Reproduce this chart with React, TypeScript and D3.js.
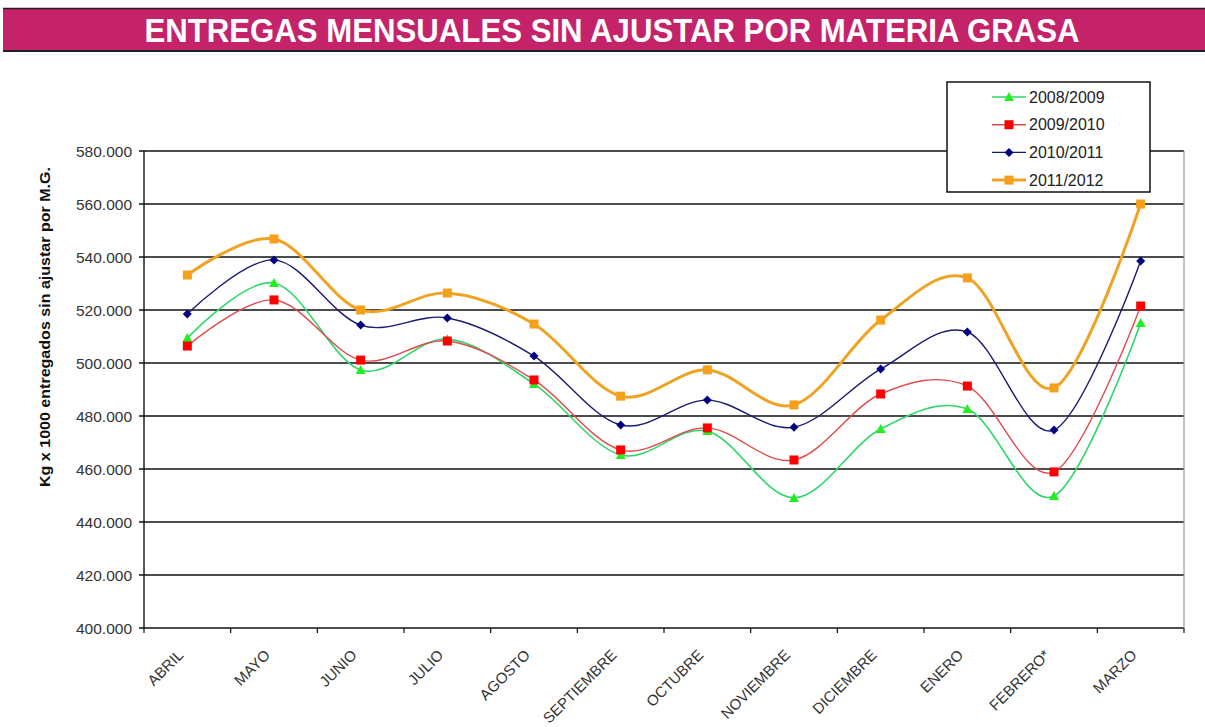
import React from 'react';
import * as d3 from 'd3';

const months = ['ABRIL', 'MAYO', 'JUNIO', 'JULIO', 'AGOSTO', 'SEPTIEMBRE', 'OCTUBRE', 'NOVIEMBRE', 'DICIEMBRE', 'ENERO', 'FEBRERO*', 'MARZO'];

const s0809 = [509.4, 530.2, 497.4, 509.0, 492.1, 465.3, 474.3, 449.1, 475.1, 482.6, 449.8, 515.1];
const s0910 = [506.4, 523.8, 501.1, 508.3, 493.6, 467.2, 475.5, 463.4, 488.3, 491.3, 458.9, 521.5];
const s1011 = [518.5, 538.9, 514.3, 517.0, 502.6, 476.6, 486.0, 475.8, 497.7, 511.7, 474.7, 538.5];
const s1112 = [533.2, 546.8, 520.0, 526.4, 514.7, 487.5, 497.4, 484.2, 516.2, 532.1, 490.6, 560.0];

const seriesNames = ['2008/2009', '2009/2010', '2010/2011', '2011/2012'];
const yTicks = [400, 420, 440, 460, 480, 500, 520, 540, 560, 580];

const W = 1205;
const H = 727;
const plot = { left: 144, right: 1184, top: 151, bottom: 628 };

const styles = [
  { line: '#2fd66a', fill: '#22ee22', width: 1.6, marker: 'triangle' },
  { line: '#e04a4a', fill: '#ff0000', width: 1.4, marker: 'square' },
  { line: '#1a1a70', fill: '#000080', width: 1.4, marker: 'diamond' },
  { line: '#f0a323', fill: '#f5a01a', width: 3, marker: 'square' },
];

const Marker = ({ type, x, y, color }: { type: string; x: number; y: number; color: string }) => {
  if (type === 'square') {
    const s = 9;
    return <rect x={x - s / 2} y={y - s / 2} width={s} height={s} fill={color} />;
  }
  if (type === 'diamond') {
    const r = 4.5;
    return <path d={`M${x},${y - r}L${x + r},${y}L${x},${y + r}L${x - r},${y}Z`} fill={color} />;
  }
  const r = 5;
  return <path d={`M${x},${y - r}L${x + r},${y + r * 0.8}L${x - r},${y + r * 0.8}Z`} fill={color} />;
};

export default function App() {
  const data = [s0809, s0910, s1011, s1112];

  const x = d3.scaleBand<string>().domain(months).range([plot.left, plot.right]);
  const y = d3.scaleLinear().domain([400, 580]).range([plot.bottom, plot.top]);
  const cx = (m: string) => (x(m) as number) + x.bandwidth() / 2;

  // Excel-style smoothed line
  const line = d3
    .line<number>()
    .x((_, i) => cx(months[i]))
    .y((v) => y(v))
    .curve(d3.curveCardinal.tension(0));

  const fmt = (v: number) => `${v}.000`;
  const boundaries = months.map((m) => x(m) as number).concat([plot.right]);

  const legendX = 947;
  const legendY = 82;

  return (
    <div style={{ position: 'absolute', left: 0, top: 0, width: W, height: H, background: '#fff' }}>
      <svg width={W} height={H} style={{ display: 'block', fontFamily: 'Liberation Sans, Arial, sans-serif' }}>
        {/* title bar */}
        <rect x={3} y={8} width={W - 3} height={43} fill="#c4236a" />
        <line x1={3} x2={W} y1={8.5} y2={8.5} stroke="#222" strokeWidth={1.5} />
        <line x1={3} x2={W} y1={51} y2={51} stroke="#222" strokeWidth={2} />
        <text
          x={612}
          y={42}
          textAnchor="middle"
          fill="#fff"
          fontSize={34}
          fontWeight="bold"
          textLength={935}
          lengthAdjust="spacingAndGlyphs"
        >
          ENTREGAS MENSUALES SIN AJUSTAR POR MATERIA GRASA
        </text>

        {/* grid */}
        {yTicks.map((t) => (
          <g key={t}>
            <line x1={plot.left - 5} x2={plot.right} y1={y(t)} y2={y(t)} stroke="#111" strokeWidth={1.4} />
            <text x={132} y={y(t) + 5.5} textAnchor="end" fontSize={15.5} fill="#333">
              {fmt(t)}
            </text>
          </g>
        ))}
        <line x1={plot.left} x2={plot.left} y1={plot.top} y2={plot.bottom} stroke="#111" strokeWidth={1.4} />
        <line x1={plot.right} x2={plot.right} y1={plot.top} y2={plot.bottom} stroke="#999" strokeWidth={1.2} />
        {boundaries.map((b, i) => (
          <line key={i} x1={b} x2={b} y1={plot.bottom} y2={plot.bottom + 5} stroke="#111" strokeWidth={1.2} />
        ))}

        {/* x labels */}
        {months.map((m) => (
          <text
            key={m}
            transform={`translate(${cx(m) - 3},${plot.bottom + 28}) rotate(-45)`}
            textAnchor="end"
            fontSize={15}
            fill="#333"
          >
            {m}
          </text>
        ))}

        {/* y axis title */}
        <text
          transform={`translate(50,327) rotate(-90)`}
          textAnchor="middle"
          fontSize={15}
          fontWeight="bold"
          fill="#111"
          textLength={320}
          lengthAdjust="spacingAndGlyphs"
        >
          Kg x 1000 entregados sin ajustar por M.G.
        </text>

        {/* series */}
        {data.map((s, k) => (
          <g key={k}>
            <path d={line(s) || ''} fill="none" stroke={styles[k].line} strokeWidth={styles[k].width} />
            {s.map((v, i) => (
              <Marker key={i} type={styles[k].marker} x={cx(months[i])} y={y(v)} color={styles[k].fill} />
            ))}
          </g>
        ))}

        {/* legend */}
        <rect x={legendX} y={legendY} width={203} height={110} fill="#fff" stroke="#111" strokeWidth={1.5} />
        {seriesNames.map((n, k) => {
          const ly = legendY + 15 + k * 27.7;
          return (
            <g key={n}>
              <line x1={992} x2={1026} y1={ly} y2={ly} stroke={styles[k].line} strokeWidth={styles[k].width} />
              <Marker type={styles[k].marker} x={1009} y={ly} color={styles[k].fill} />
              <text x={1029} y={ly + 5.5} fontSize={16} fill="#222">
                {n}
              </text>
            </g>
          );
        })}
      </svg>
    </div>
  );
}
